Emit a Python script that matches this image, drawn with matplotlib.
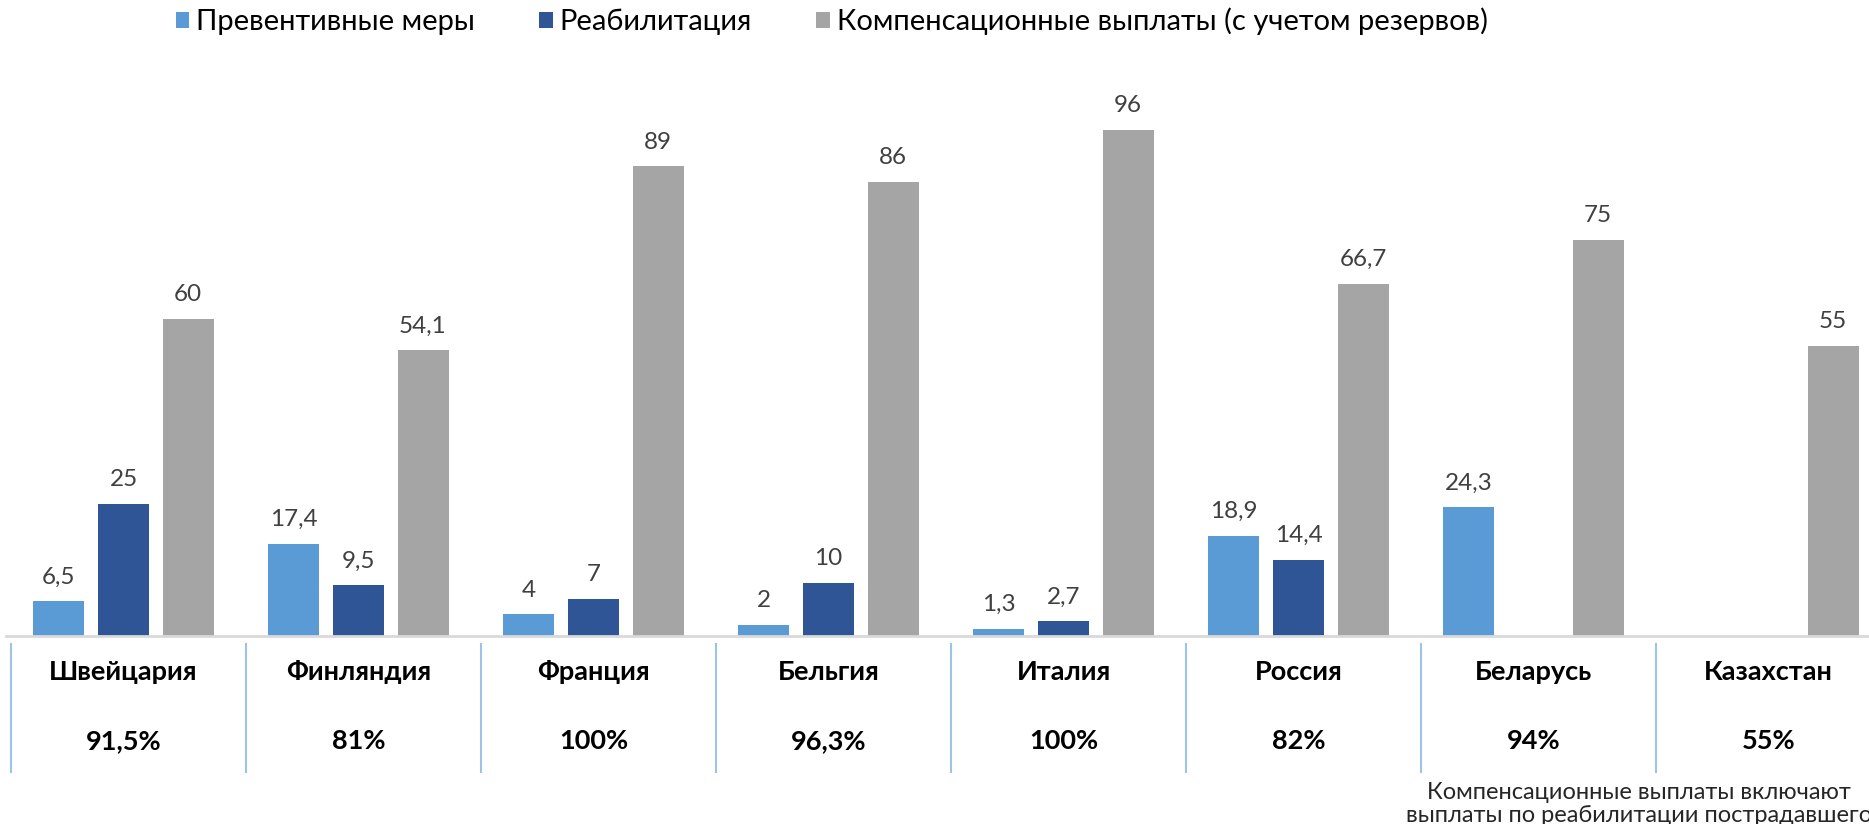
import numpy as np
import matplotlib
matplotlib.use("Agg")
import matplotlib.pyplot as plt
import matplotlib.transforms as mtransforms

# ── Data ──────────────────────────────────────────────────────────────────────
countries = ["Швейцария", "Финляндия", "Франция", "Бельгия",
             "Италия", "Россия", "Беларусь", "Казахстан"]
share_labels = ["91,5%", "81%", "100%", "96,3%", "100%", "82%", "94%", "55%"]

prevention   = [6.5, 17.4, 4, 2, 1.3, 18.9, 24.3, np.nan]
rehab        = [25, 9.5, 7, 10, 2.7, 14.4, np.nan, np.nan]
compensation = [60, 54.1, 89, 86, 96, 66.7, 75, 55]

series_names = ["Превентивные меры", "Реабилитация",
                "Компенсационные выплаты (с учетом резервов)"]
colors = ["#5B9BD5", "#2F5597", "#A5A5A5"]

note = "Компенсационные выплаты включают\nвыплаты по реабилитации пострадавшего"

# ── Style ─────────────────────────────────────────────────────────────────────
plt.rcParams["font.family"] = ["Lato", "DejaVu Sans"]

W, H = 1869, 824
fig = plt.figure(figsize=(W / 100, H / 100), dpi=100)
fig.patch.set_facecolor("white")

bottom_px = H - 635.5
ax_h_px = 580
ax = fig.add_axes([6 / W, bottom_px / H, 1 - 6 / W, ax_h_px / H])

x = np.arange(len(countries))
width = 0.217
step = 0.2745

for i, (vals, name, col) in enumerate(zip([prevention, rehab, compensation],
                                          series_names, colors)):
    pos = x + (i - 1) * step
    ax.bar(pos, vals, width=width, color=col, label=name, zorder=2)
    for xp, v in zip(pos, vals):
        if np.isnan(v):
            continue
        txt = f"{v:g}".replace(".", ",")
        ax.annotate(txt, (xp, v), xytext=(0, 10), textcoords="offset points",
                    ha="center", va="bottom", fontsize=17.5, color="#404040")

ax.set_xlim(-0.5, -0.5 + (W - 6) / 235)
ax.set_ylim(0, ax_h_px / 5.27)
ax.set_xticks([])
ax.set_yticks([])
for s in ["top", "left", "right"]:
    ax.spines[s].set_visible(False)
ax.spines["bottom"].set_color("#D9D9D9")
ax.spines["bottom"].set_linewidth(2)

# ── Table under the bars ─────────────────────────────────────────────────────
trans = mtransforms.blended_transform_factory(ax.transData, fig.transFigure)
for i, (c, p) in enumerate(zip(countries, share_labels)):
    ax.text(i, 1 - 672 / H, c, transform=trans, ha="center", va="center",
            fontsize=19.5, fontweight="bold", color="black", clip_on=False)
    ax.text(i, 1 - 741 / H, p, transform=trans, ha="center", va="center",
            fontsize=19.5, fontweight="bold", color="black", clip_on=False)
    ax.plot([i - 0.5 + 0.02, i - 0.5 + 0.02], [1 - 644 / H, 1 - 772 / H],
            transform=trans, color="#9DC3E6", lw=1.5, clip_on=False)

fig.text(1639 / W, 1 - 804 / H, note, ha="center", va="center",
         fontsize=17, color="#262626", linespacing=1.1)

# ── Legend ────────────────────────────────────────────────────────────────────
fig.legend(loc="center left", bbox_to_anchor=(176 / W, 1 - 21.5 / H), ncol=3,
           frameon=False, fontsize=21, handlelength=0.45, handleheight=0.45,
           handletextpad=0.25, columnspacing=2.2, borderaxespad=0, borderpad=0)

fig.savefig("out.png", dpi=100, facecolor="white")
